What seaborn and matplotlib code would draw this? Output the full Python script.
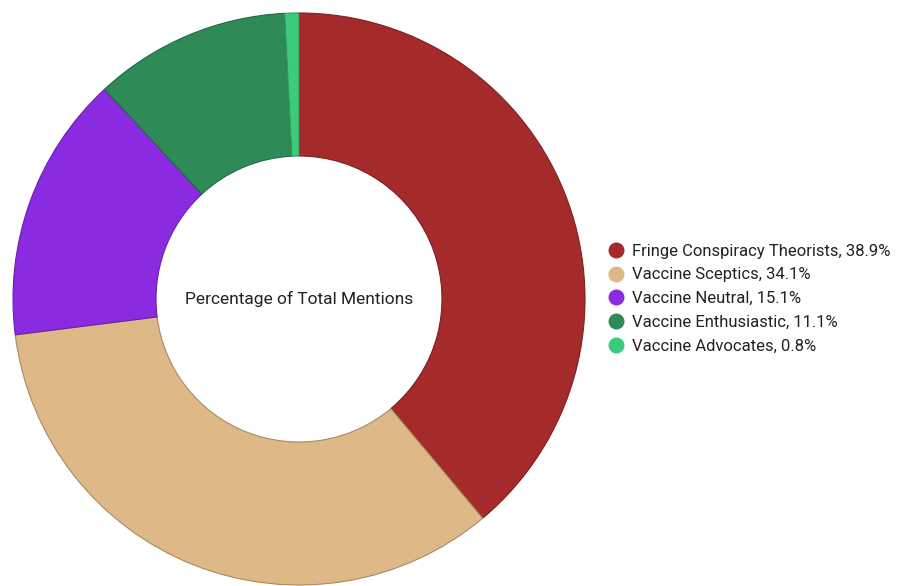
import matplotlib
matplotlib.use("Agg")
import matplotlib.pyplot as plt
import matplotlib.colors as mcolors
from matplotlib.lines import Line2D
import seaborn as sns

# Share of total mentions by stance group
groups = [
    "Fringe Conspiracy Theorists",
    "Vaccine Sceptics",
    "Vaccine Neutral",
    "Vaccine Enthusiastic",
    "Vaccine Advocates",
]
shares = [38.9, 34.1, 15.1, 11.1, 0.8]
palette = ["#A52A2A", "#DEB887", "#8A2BE2", "#2E8B57", "#3CCB7A"]
center_label = "Percentage of Total Mentions"

sns.set_theme(style="white")
plt.rcParams["font.family"] = ["Roboto", "DejaVu Sans"]

fig = plt.figure(figsize=(9.06, 5.86), dpi=100)
cx, cy, rad = 299, 299, 286
ax = fig.add_axes([(cx - rad) / 906, (586 - cy - rad) / 586, 2 * rad / 906, 2 * rad / 586])

colors = sns.color_palette(palette)
wedges, _ = ax.pie(
    shares,
    colors=colors,
    startangle=90,
    counterclock=False,
    radius=1.0,
    wedgeprops=dict(width=0.5, linewidth=0.8),
    frame=True,
)
# Outline each ring segment with a darker shade of its own fill
for w, c in zip(wedges, colors):
    r, g, b = mcolors.to_rgb(c)
    w.set_edgecolor((r * 0.75, g * 0.75, b * 0.75))
ax.axis("off")
ax.set_xlim(-1, 1)
ax.set_ylim(-1, 1)

ax.text(0, 0, center_label, ha="center", va="center", fontsize=12.5, color="#222222")

handles = [
    Line2D([0], [0], marker="o", linestyle="none", markersize=10.5,
           markerfacecolor=c, markeredgecolor=c)
    for c in colors
]
labels = [f"{g}, {s}%" for g, s in zip(groups, shares)]
fig.legend(
    handles, labels,
    loc="center left",
    bbox_to_anchor=(608 / 906, (586 - 298.5) / 586),
    frameon=False,
    fontsize=12,
    handlelength=0.9,
    handletextpad=0.55,
    labelspacing=0.52,
    borderpad=0,
    borderaxespad=0,
    labelcolor="#222222",
)

fig.savefig("out.png", dpi=100, facecolor="white")
